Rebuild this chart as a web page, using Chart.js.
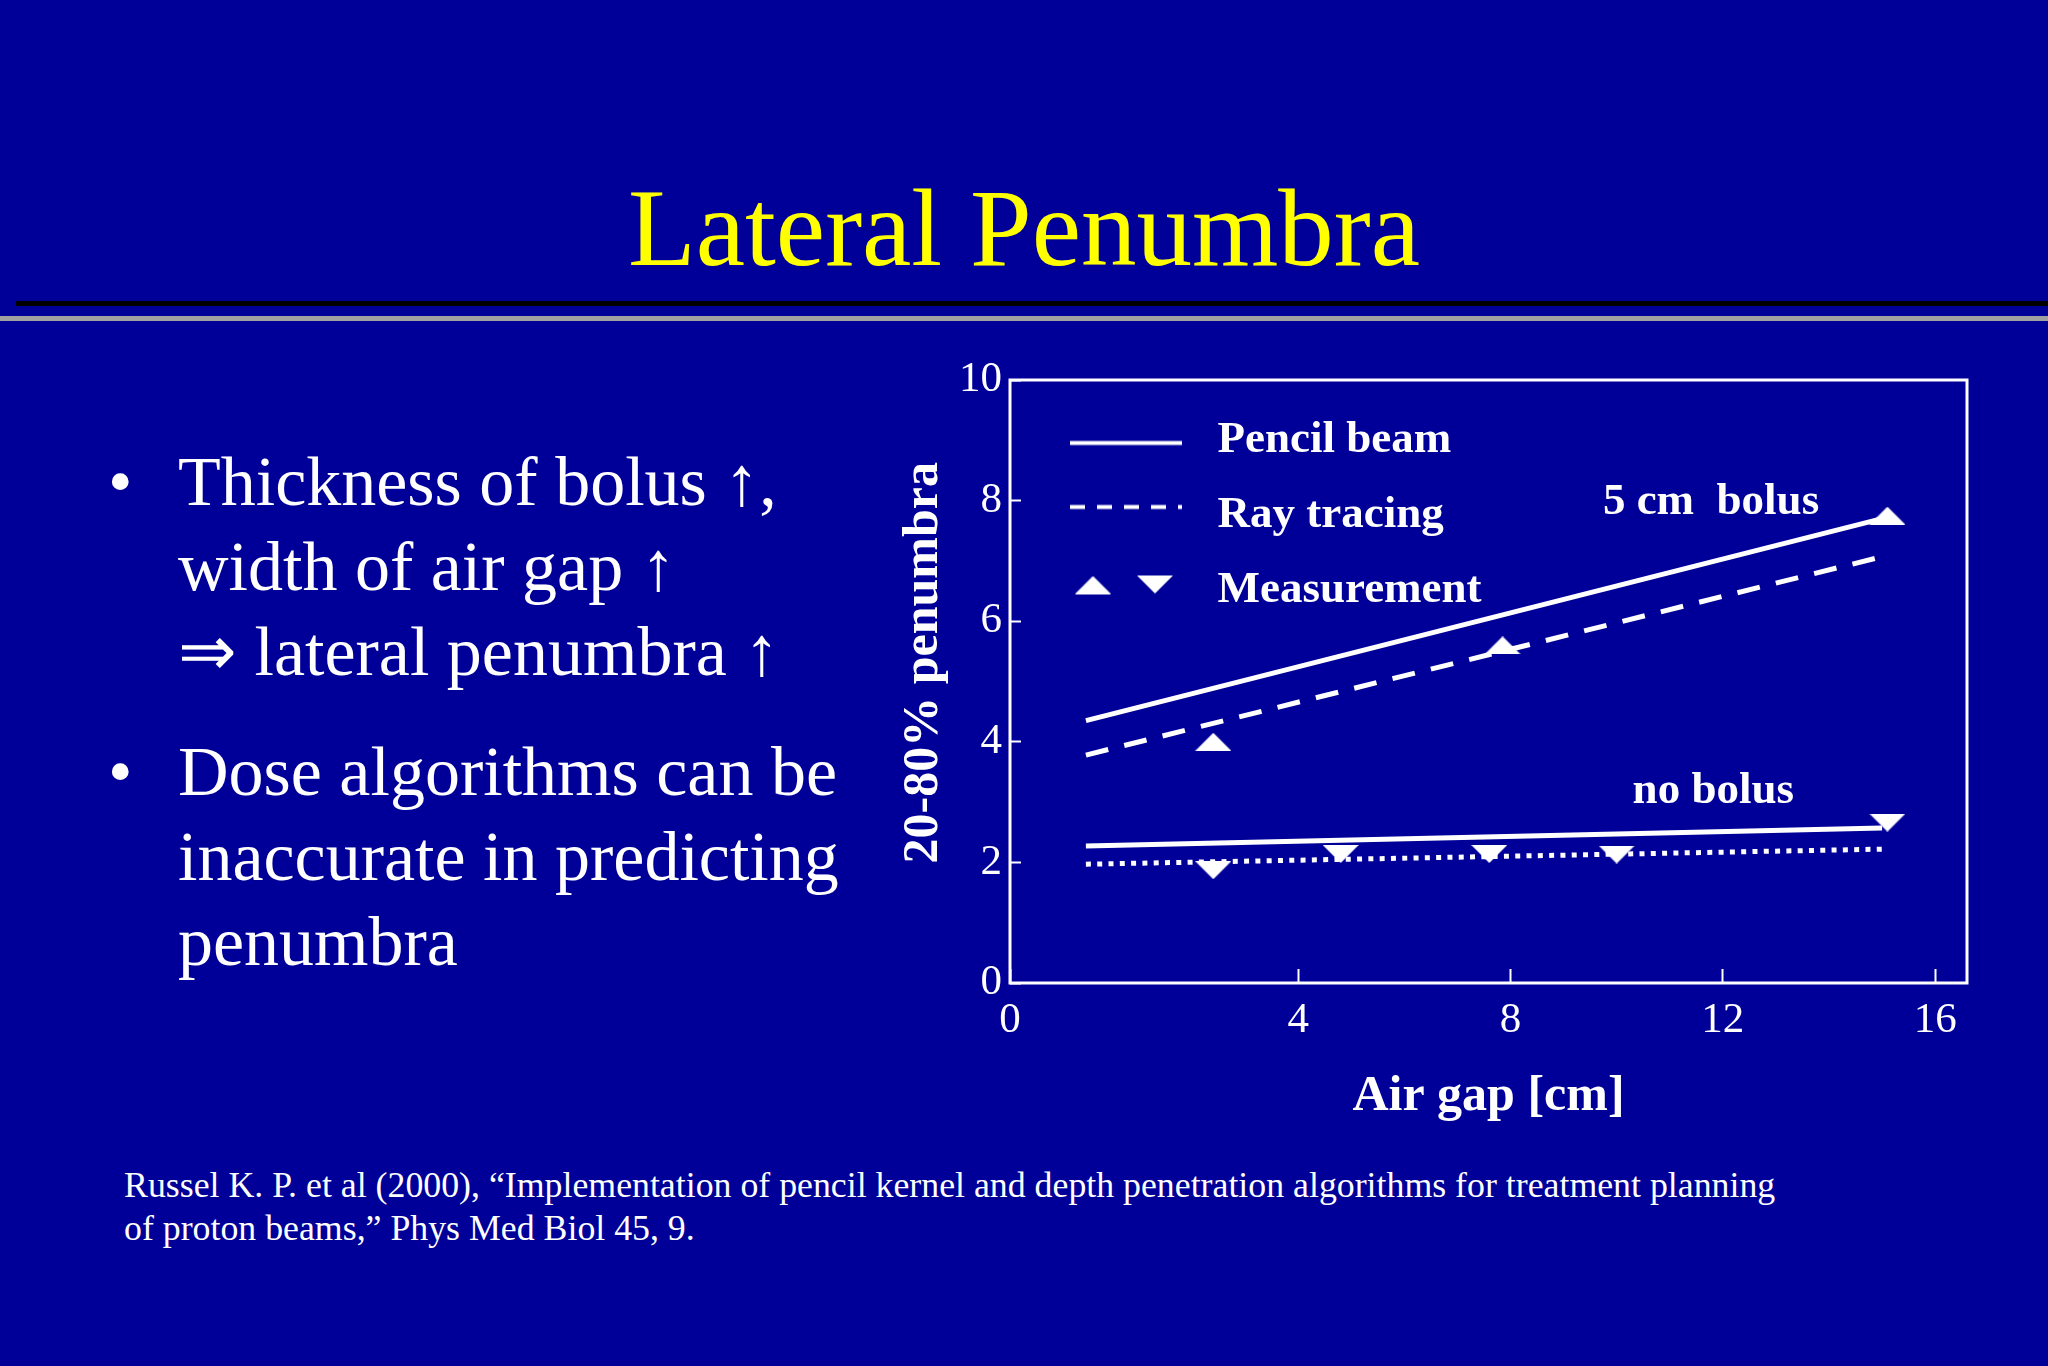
<!DOCTYPE html>
<html>
<head>
<meta charset="utf-8">
<title>Lateral Penumbra</title>
<script src="https://cdn.jsdelivr.net/npm/chart.js@4.4.1/dist/chart.umd.min.js"></script>
<style>
  html, body { margin: 0; padding: 0; }
  body {
    width: 2048px; height: 1366px; background: #000099; position: relative; overflow: hidden;
    font-family: "Liberation Serif", "Times New Roman", serif; color: #fff;
  }
  #title { position: absolute; left: 0; width: 2048px; top: 172px; text-align: center;
           font-size: 111px; line-height: 111px; color: #ffff00; }
  .rule-dark { position: absolute; left: 16px; right: 0; top: 301px; height: 5px; background: #000; }
  .rule-grey { position: absolute; left: 0; right: 0; top: 316px; height: 5px; background: #a0a0a0; }
  .bullet { position: absolute; left: 178px; font-size: 70px; line-height: 85px; white-space: nowrap; }
  .bullet::before { content: "\2022"; position: absolute; left: -70px; }
  #b1 { top: 439px; }
  #b2 { top: 729px; }
  #ref { position: absolute; left: 124px; top: 1164px; font-size: 35.8px; line-height: 43px; white-space: nowrap; }
  #chart { position: absolute; left: 0; top: 0; }
</style>
</head>
<body>
<div id="title">Lateral Penumbra</div>
<div class="rule-dark"></div>
<div class="rule-grey"></div>
<div class="bullet" id="b1">Thickness of bolus &#8593;,<br>width of air gap &#8593;<br>&#8658; lateral penumbra &#8593;</div>
<div class="bullet" id="b2">Dose algorithms can be<br>inaccurate in predicting<br>penumbra</div>
<div id="ref">Russel K. P. et al (2000), &#8220;Implementation of pencil kernel and depth penetration algorithms for treatment planning<br>of proton beams,&#8221; Phys Med Biol 45, 9.</div>
<canvas id="chart" width="2048" height="1366"></canvas>

<script>
// air gap [cm] at the ends of the calculated lines
const lineGap = [0, 15];
const pencil5cm = [4.35, 7.7];
const ray5cm = [3.78, 7.07];
const pencilNoBolus = [2.27, 2.57];
const rayNoBolus = [1.97, 2.22];

// measured points
const measGap5cm = [2.4, 7.85, 15.1];
const meas5cm = [4.0, 5.6, 7.75];
const measGapNoBolus = [2.4, 4.8, 7.6, 10, 15.1];
const measNoBolus = [1.87, 2.14, 2.14, 2.13, 2.66];

const xTicks = [0, 4, 8, 12, 16];
const yTicks = [0, 2, 4, 6, 8, 10];
const legendLabels = ["Pencil beam", "Ray tracing", "Measurement"];

const FONT = "'Liberation Serif', 'Times New Roman', serif";
Chart.defaults.font.family = FONT;
Chart.defaults.color = "#fff";

function pts(xs, ys) {
  return xs.map((x, i) => ({ x: x, y: ys[i] }));
}

// flat triangles used as markers
function triangle(up) {
  const c = document.createElement("canvas");
  c.width = 36; c.height = 18;
  const ctx = c.getContext("2d");
  ctx.fillStyle = "#fff";
  ctx.beginPath();
  if (up) { ctx.moveTo(0, 18); ctx.lineTo(18, 0); ctx.lineTo(36, 18); }
  else { ctx.moveTo(0, 0); ctx.lineTo(36, 0); ctx.lineTo(18, 18); }
  ctx.closePath();
  ctx.fill();
  return c;
}
const triUp = triangle(true);
const triDown = triangle(false);

// legend glyphs
function legendGlyph(kind) {
  const c = document.createElement("canvas");
  c.width = 155; c.height = 40;
  const ctx = c.getContext("2d");
  ctx.strokeStyle = "#fff";
  ctx.lineWidth = 4;
  if (kind === "solid" || kind === "dash") {
    const y = kind === "solid" ? 22.5 : 11.5;
    if (kind === "dash") ctx.setLineDash([15, 12]);
    ctx.beginPath();
    ctx.moveTo(30, y);
    ctx.lineTo(142, y);
    ctx.stroke();
  } else {
    ctx.drawImage(triUp, 35, 5.5);
    ctx.drawImage(triDown, 97, 5);
  }
  return c;
}
const glyphs = [legendGlyph("solid"), legendGlyph("dash"), legendGlyph("tri")];

const notes = [
  { text: "5 cm  bolus", x: 9.74, y: 7.78 },
  { text: "no bolus", x: 10.3, y: 2.98 }
];

const framePlugin = {
  id: "frame",
  afterLayout(chart) {
    // keep the vertical legend inside the plot frame
    const lg = chart.legend;
    if (lg) {
      lg.top = chart.chartArea.top + 8;
      lg.bottom = lg.top + lg.height;
    }
  },
  afterDraw(chart) {
    const { ctx, chartArea: a, scales } = chart;
    ctx.save();
    ctx.strokeStyle = "#fff";
    ctx.lineWidth = 3;
    ctx.strokeRect(a.left, a.top, a.right - a.left, a.bottom - a.top);
    ctx.fillStyle = "#fff";
    ctx.font = "bold 45px " + FONT;
    ctx.textBaseline = "alphabetic";
    notes.forEach(n => {
      ctx.fillText(n.text, scales.x.getPixelForValue(n.x), scales.y.getPixelForValue(n.y));
    });
    ctx.restore();
  }
};

const lineStyle = { showLine: true, pointRadius: 0, borderColor: "#fff", borderWidth: 5, borderCapStyle: "butt" };

new Chart(document.getElementById("chart"), {
  type: "scatter",
  data: {
    datasets: [
      { label: "Measurement 5 cm", data: pts(measGap5cm, meas5cm), pointStyle: triUp, pointRadius: 10 },
      { label: "Measurement no bolus", data: pts(measGapNoBolus, measNoBolus), pointStyle: triDown, pointRadius: 10 },
      Object.assign({ label: "Pencil beam 5 cm", data: pts(lineGap, pencil5cm) }, lineStyle),
      Object.assign({ label: "Ray tracing 5 cm", data: pts(lineGap, ray5cm), borderDash: [23, 16.5] }, lineStyle),
      Object.assign({ label: "Pencil beam no bolus", data: pts(lineGap, pencilNoBolus) }, lineStyle),
      Object.assign({ label: "Ray tracing no bolus", data: pts(lineGap, rayNoBolus), borderDash: [5, 6.3] }, lineStyle)
    ]
  },
  options: {
    responsive: false,
    animation: false,
    layout: { padding: { left: 894, right: 81, top: 380, bottom: 239 } },
    plugins: {
      tooltip: { enabled: false },
      legend: {
        position: "chartArea",
        align: "start",
        labels: {
          usePointStyle: true,
          pointStyleWidth: 155,
          padding: 30,
          font: { size: 45, weight: "bold" },
          generateLabels: () => legendLabels.map((t, i) => ({
            text: t, pointStyle: glyphs[i], fontColor: "#fff", lineWidth: 0,
            fillStyle: "#fff", strokeStyle: "#fff", hidden: false, datasetIndex: i
          }))
        }
      }
    },
    scales: {
      x: {
        type: "linear",
        // the original figure prints its "0" at the frame corner
        min: -1.43,
        max: 16.6,
        afterBuildTicks: axis => { axis.ticks = xTicks.map(v => ({ value: v === 0 ? axis.min : v })); },
        afterFit: scale => { scale.height = 144; },
        border: { display: false },
        grid: { drawOnChartArea: false, color: "#fff", tickLength: -14, tickWidth: 2 },
        ticks: {
          color: "#fff", padding: 26, maxRotation: 0,
          font: { size: 43 },
          callback: function (v) { return v === this.min ? "0" : String(v); }
        },
        title: { display: true, text: "Air gap [cm]", color: "#fff", padding: 0,
                 font: { size: 50, weight: "bold", lineHeight: 1.2 } }
      },
      y: {
        type: "linear",
        min: 0,
        max: 10,
        afterBuildTicks: axis => { axis.ticks = yTicks.map(v => ({ value: v })); },
        afterFit: scale => { scale.width = 116; },
        border: { display: false },
        grid: { drawOnChartArea: false, color: "#fff", tickLength: -11, tickWidth: 2 },
        ticks: { color: "#fff", padding: 19, font: { size: 43 } },
        title: { display: true, text: "   20-80% penumbra", color: "#fff", padding: 0,
                 font: { size: 50, weight: "bold", lineHeight: 1.2 } }
      }
    }
  },
  plugins: [framePlugin]
});
</script>
</body>
</html>
